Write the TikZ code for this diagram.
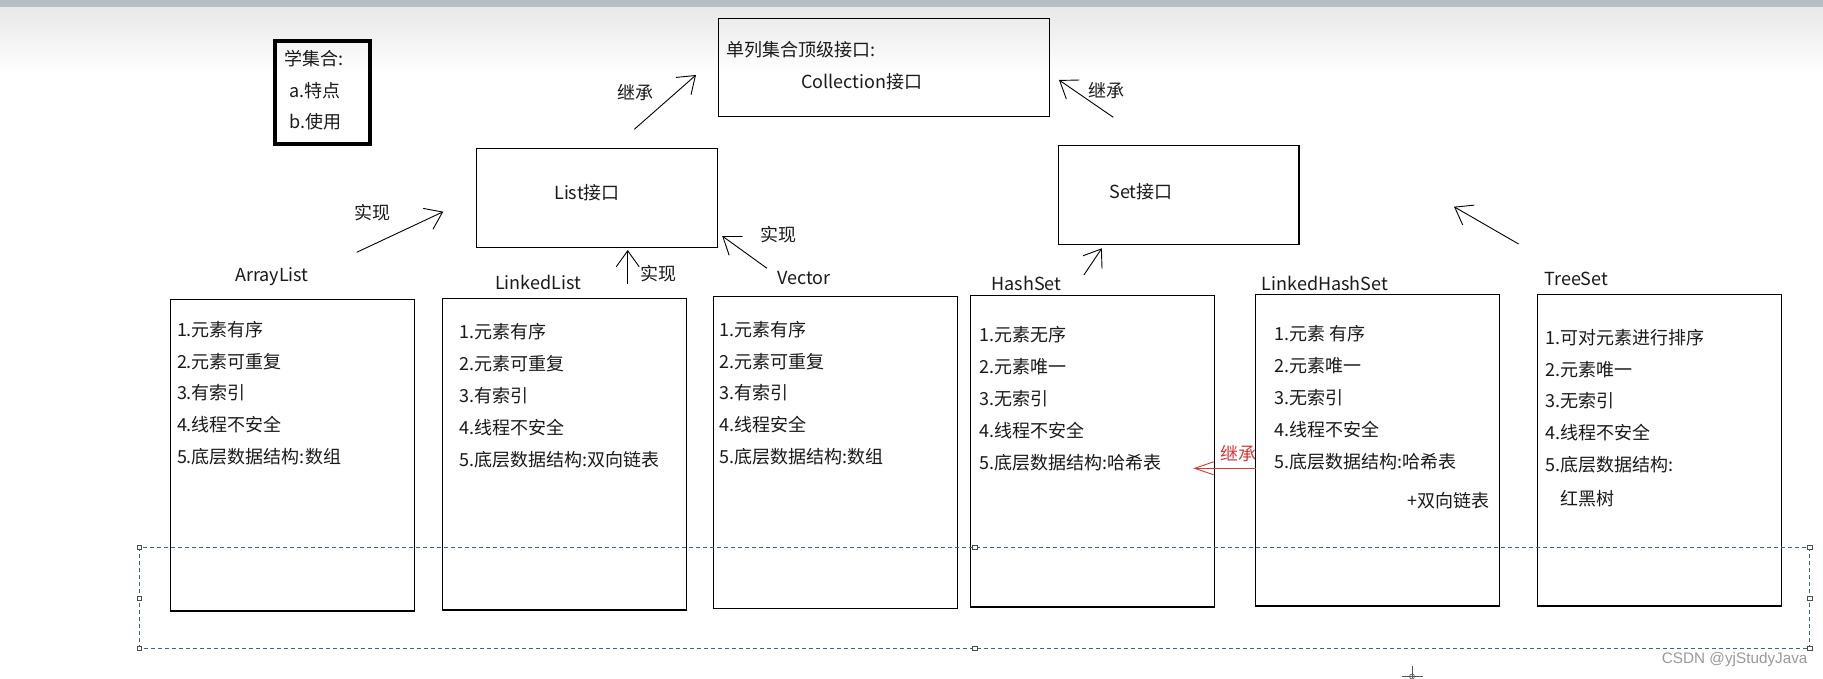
\documentclass[tikz,border=0pt]{standalone}
\usepackage{fontspec}
\setmainfont{Noto Sans CJK SC}
\newfontfamily\wmfont{Liberation Sans}
\usetikzlibrary{arrows.meta}
\definecolor{ink}{HTML}{1A1A1A}
\definecolor{selteal}{HTML}{2E6E78}
\definecolor{redarrow}{HTML}{D23A3A}
\definecolor{barcol}{HTML}{B7BDC7}
\definecolor{wmgray}{HTML}{9A9A9A}
\tikzset{
  box/.style={draw=black, line width=1.2pt, inner sep=0pt, rectangle},
  lbl/.style={inner sep=0pt, text=ink},
  arr/.style={-{Straight Barb[length=16pt,width=23pt]}, line width=0.9pt, black},
  redarr/.style={-{Straight Barb[length=19pt,width=13pt]}, line width=0.9pt, redarrow},
  sel/.style={draw=selteal, line width=1pt, dash pattern=on 4pt off 3pt},
  handle/.style={draw=gray!60!black, fill=white, minimum size=4.5pt, inner sep=0pt, line width=0.7pt, rectangle}
}
\begin{document}
\begin{tikzpicture}[x=1pt, y=-1pt, font=\fontsize{18}{22}\selectfont]
\useasboundingbox (0,0) rectangle (1823,678);
\fill[white] (0,0) rectangle (1823,678);
\shade[top color=gray!18, bottom color=white] (0,7) rectangle (1823,75);
\fill[barcol] (0,0) rectangle (1823,7);

% top boxes
\node[box, line width=4pt, minimum width=95.6pt, minimum height=102.7pt] (LN) at (322.5,92.35) {};
\node[lbl, anchor=west] (LN1) at (284,58.3) {学集合:};
\node[lbl, anchor=west] (LN2) at (289.3,90.7) {a.特点};
\node[lbl, anchor=west] (LN3) at (289.3,121.7) {b.使用};

\node[box, minimum width=331pt, minimum height=97.6pt] (CO) at (883.9,67.5) {};
\node[lbl, anchor=west] (CO1) at (726,50) {单列集合顶级接口:};
\node[lbl] (CO2) at (861.7,81.7) {Collection接口};

\node[box, minimum width=240.6pt, minimum height=99pt] (LI) at (597,197.8) {};
\node[lbl] (LItxt) at (587,192.7) {List接口};

\node[box, minimum width=240.3pt, minimum height=98.6pt] (SE) at (1178.75,195) {};
\node[lbl] (SEtxt) at (1141,191.7) {Set接口};

% class boxes
\node[box, minimum width=243.9pt, minimum height=311.7pt] (AL) at (292.4,455.2) {};
\node[box, minimum width=243.9pt, minimum height=311.3pt] (LL) at (564.45,454.35) {};
\node[box, minimum width=244.3pt, minimum height=312pt] (VE) at (835.35,452.3) {};
\node[box, minimum width=243.6pt, minimum height=311.7pt] (HS) at (1092.5,451.15) {};
\node[box, minimum width=243.6pt, minimum height=311.7pt] (LH) at (1377.3,450.15) {};
\node[box, minimum width=243.7pt, minimum height=311.7pt] (TS) at (1659.35,450.15) {};

% titles
\node[lbl] (ALt) at (272,276.7) {ArrayList};
\node[lbl] (LLt) at (538,282.5) {LinkedList};
\node[lbl] (VEt) at (804,277.9) {Vector};
\node[lbl] (HSt) at (1026.6,283.7) {HashSet};
\node[lbl] (LHt) at (1325,283.3) {LinkedHashSet};
\node[lbl] (TSt) at (1576.4,279.3) {TreeSet};

% box contents
\foreach \t [count=\i] in {1.元素有序,2.元素可重复,3.有索引,4.线程不安全,5.底层数据结构:数组}
  \node[lbl, anchor=west] (AL-\i) at (176.8,{329.3+(\i-1)*31.85}) {\t};
\foreach \t [count=\i] in {1.元素有序,2.元素可重复,3.有索引,4.线程不安全,5.底层数据结构:双向链表}
  \node[lbl, anchor=west] (LL-\i) at (458.9,{331.7+(\i-1)*32.1}) {\t};
\foreach \t [count=\i] in {1.元素有序,2.元素可重复,3.有索引,4.线程安全,5.底层数据结构:数组}
  \node[lbl, anchor=west] (VE-\i) at (719.6,{329.3+(\i-1)*31.85}) {\t};
\foreach \t [count=\i] in {1.元素无序,2.元素唯一,3.无索引,4.线程不安全,5.底层数据结构:哈希表}
  \node[lbl, anchor=west] (HS-\i) at (979.6,{335+(\i-1)*31.9}) {\t};
\foreach \t [count=\i] in {1.元素 有序,2.元素唯一,3.无索引,4.线程不安全,5.底层数据结构:哈希表}
  \node[lbl, anchor=west] (LH-\i) at (1274.6,{333.3+(\i-1)*32.1}) {\t};
\node[lbl, anchor=east] (LH-6) at (1489.8,500.7) {+双向链表};
\foreach \t [count=\i] in {1.可对元素进行排序,2.元素唯一,3.无索引,4.线程不安全,5.底层数据结构:}
  \node[lbl, anchor=west] (TS-\i) at (1545.6,{337.3+(\i-1)*31.9}) {\t};
\node[lbl, anchor=west] (TS-6) at (1560.4,498.3) {红黑树};

% arrows
\coordinate (a1s) at (356.7,252.3); \coordinate (a1e) at (443.3,211.7);
\coordinate (a2s) at (634.3,129.3); \coordinate (a2e) at (696,75);
\coordinate (a3s) at (627.7,284);   \coordinate (a3e) at (627.7,250);
\coordinate (a4s) at (767,268.3);   \coordinate (a4e) at (722.2,236);
\coordinate (a5s) at (1113.3,117.3); \coordinate (a5e) at (1059,80);
\coordinate (a6s) at (1083.9,275);  \coordinate (a6e) at (1101.8,248.3);
\coordinate (a7s) at (1518.6,244);  \coordinate (a7e) at (1454,206.7);
\coordinate (a8s) at (1255.7,468.3); \coordinate (a8e) at (1193.3,468.3);
\draw[arr] (a1s) -- (a1e);
\draw[arr] (a2s) -- (a2e);
\draw[arr] (a3s) -- (a3e);
\draw[arr] (a4s) -- (a4e);
\draw[arr] (a5s) -- (a5e);
\draw[arr] (a6s) -- (a6e);
\draw[arr] (a7s) -- (a7e);
\draw[redarr] (a8s) -- (a8e);
\node[lbl] (a1l) at (372.7,212.7) {实现};
\node[lbl] (a2l) at (635.5,92.7) {继承};
\node[lbl] (a3l) at (658.3,274) {实现};
\node[lbl] (a4l) at (778.5,235) {实现};
\node[lbl] (a5l) at (1106,90.7) {继承};
\node[lbl, text=redarrow] (a8l) at (1238.5,453.3) {继承};

% selection frame
\coordinate (selNW) at (139.5,547.3);
\coordinate (selSE) at (1809.9,648.3);
\draw[sel] (selNW) rectangle (selSE);
\foreach \p [count=\i] in {(139.5,547.3),(974.7,547.3),(1809.9,547.3),(139.5,598.3),(1809.9,598.3),(139.5,648.3),(974.7,648.3),(1809.9,648.3)}
  \node[handle] (h\i) at \p {};

% watermark and cursor
\node[lbl, text=wmgray, anchor=east, font=\wmfont\fontsize{15.3}{18}\selectfont] (wm) at (1807.7,659.3) {CSDN @yjStudyJava};
\draw[line width=0.8pt, gray!70!black] (1412,666) -- (1412,678) (1402,676.5) -- (1423,676.5);
\draw[line width=0.7pt, gray!70!black] (1412,676.5) circle (2.5pt);
\end{tikzpicture}
\end{document}
